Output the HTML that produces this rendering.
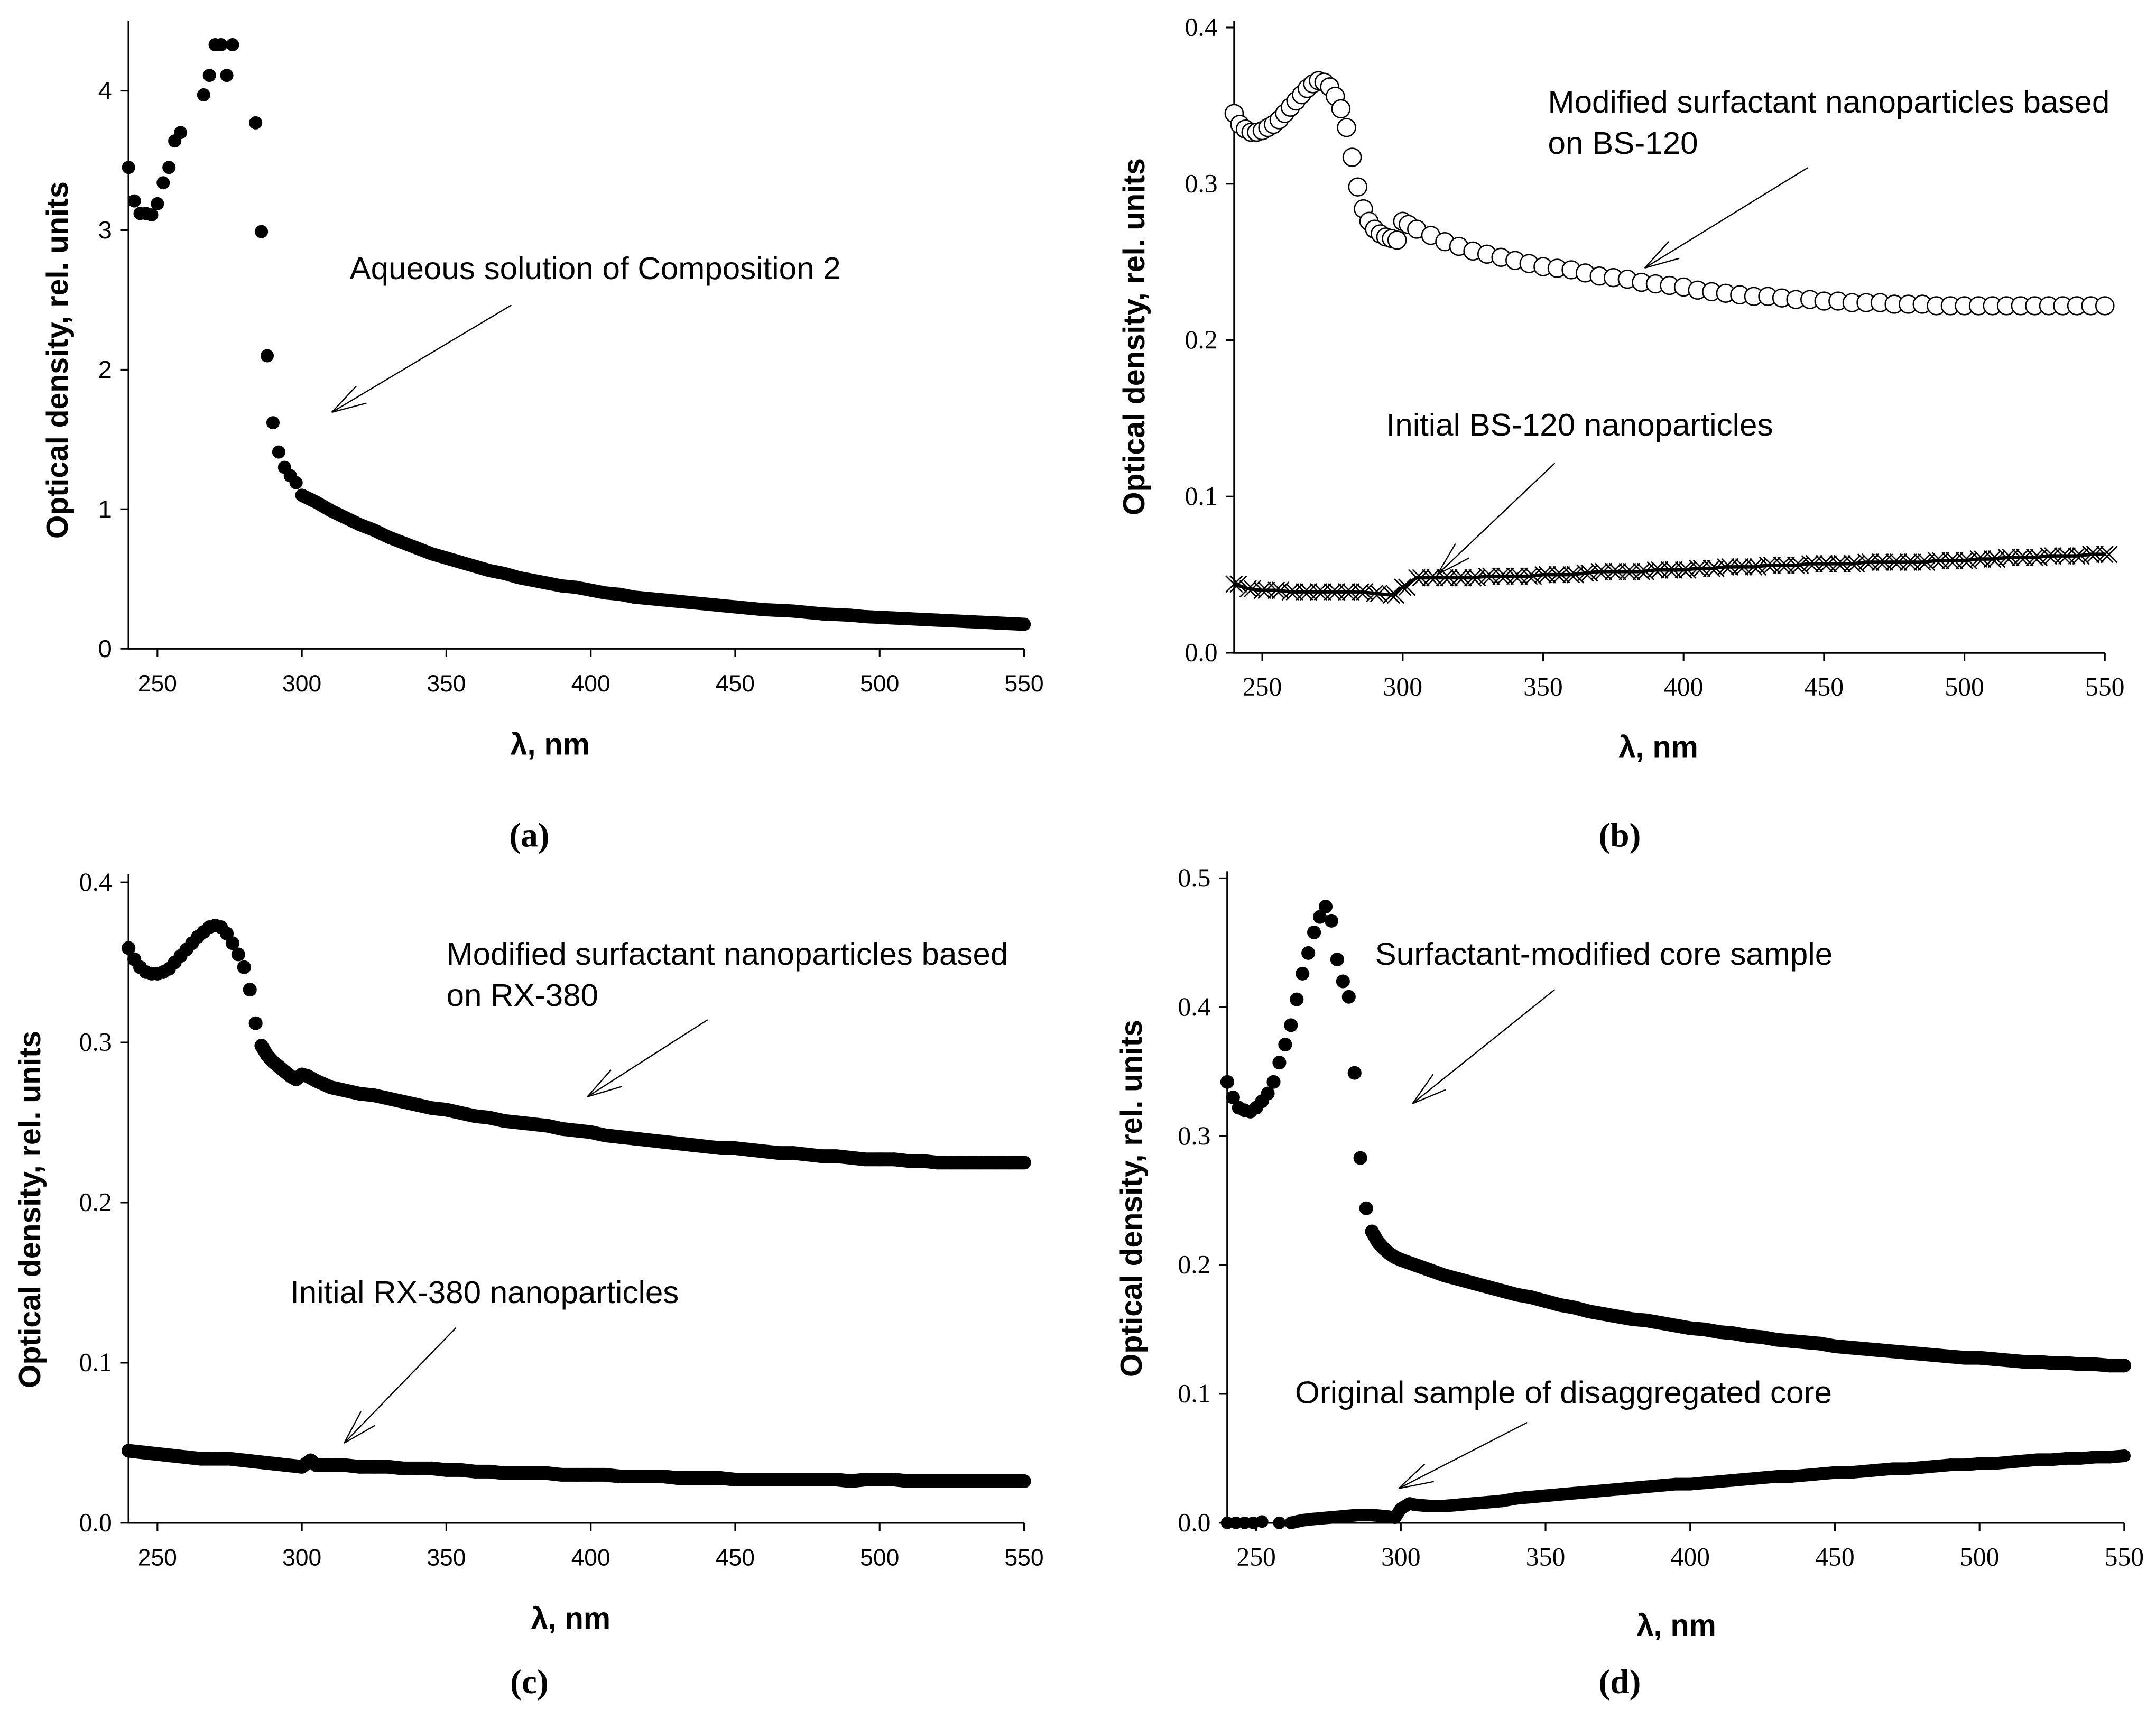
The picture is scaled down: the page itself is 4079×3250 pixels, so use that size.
<!DOCTYPE html>
<html><head><meta charset="utf-8"><style>
html,body{margin:0;padding:0;background:#fff}
svg{display:block}
.sans{font-family:"Liberation Sans",Arial,sans-serif}
.serif{font-family:"Liberation Serif","Times New Roman",serif}
</style></head><body>
<svg id="fig" width="4079" height="3250" viewBox="0 0 1560 1250" preserveAspectRatio="none" xmlns="http://www.w3.org/2000/svg"></svg>
<script>
// ---------- Panel (a) data ----------
const aX = [240,242,244,246,248,250,252,254,256,258,266,268,270,272,274,276,284,286,288,290,292,294,296,298,300,305,310,315,320,325,330,335,340,345,350,355,360,365,370,375,380,385,390,395,400,405,410,415,420,425,430,435,440,445,450,455,460,465,470,475,480,485,490,495,500,505,510,515,520,525,530,535,540,545,550];
const aY = [3.45,3.21,3.12,3.12,3.11,3.19,3.34,3.45,3.64,3.70,3.97,4.11,4.33,4.33,4.11,4.33,3.77,2.99,2.10,1.62,1.41,1.30,1.24,1.19,1.10,1.05,0.99,0.94,0.89,0.85,0.80,0.76,0.72,0.68,0.65,0.62,0.59,0.56,0.54,0.51,0.49,0.47,0.45,0.44,0.42,0.40,0.39,0.37,0.36,0.35,0.34,0.33,0.32,0.31,0.30,0.29,0.28,0.275,0.27,0.26,0.25,0.245,0.24,0.23,0.225,0.22,0.215,0.21,0.205,0.20,0.195,0.19,0.185,0.18,0.175];
const aYTicks = [0,1,2,3,4];
// ---------- Panel (b) data ----------
const bModX = [240,242,244,246,248,250,252,254,256,258,260,262,264,266,268,270,272,274,276,278,280,282,284,286,288,290,292,294,296,298,300,302,305,310,315,320,325,330,335,340,345,350,355,360,365,370,375,380,385,390,395,400,405,410,415,420,425,430,435,440,445,450,455,460,465,470,475,480,485,490,495,500,505,510,515,520,525,530,535,540,545,550];
const bModY = [0.345,0.338,0.335,0.333,0.333,0.334,0.336,0.338,0.341,0.345,0.349,0.353,0.357,0.361,0.364,0.366,0.365,0.362,0.356,0.348,0.336,0.317,0.298,0.284,0.276,0.271,0.268,0.266,0.265,0.264,0.276,0.274,0.271,0.267,0.263,0.260,0.257,0.255,0.253,0.251,0.249,0.247,0.246,0.245,0.243,0.241,0.240,0.239,0.237,0.236,0.235,0.234,0.232,0.231,0.230,0.229,0.228,0.228,0.227,0.226,0.226,0.225,0.225,0.224,0.224,0.224,0.223,0.223,0.223,0.222,0.222,0.222,0.222,0.222,0.222,0.222,0.222,0.222,0.222,0.222,0.222,0.222];
const bIniX = [240,245,250,255,260,265,270,275,280,285,290,296,300,305,310,315,320,325,330,335,340,345,350,355,360,365,370,375,380,385,390,395,400,405,410,415,420,425,430,435,440,445,450,455,460,465,470,475,480,485,490,495,500,505,510,515,520,525,530,535,540,545,550];
const bIniY = [0.044,0.041,0.040,0.040,0.039,0.039,0.039,0.039,0.039,0.039,0.038,0.037,0.042,0.048,0.048,0.048,0.048,0.048,0.049,0.049,0.049,0.049,0.050,0.050,0.050,0.051,0.052,0.052,0.052,0.052,0.053,0.053,0.053,0.054,0.054,0.055,0.055,0.055,0.056,0.056,0.056,0.057,0.057,0.057,0.057,0.058,0.058,0.058,0.058,0.058,0.059,0.059,0.059,0.060,0.060,0.061,0.061,0.061,0.062,0.062,0.062,0.063,0.063];
const bYTicks = ["0.0","0.1","0.2","0.3","0.4"];
// ---------- Panel (c) data ----------
const cModX = [240,242,244,246,248,250,252,254,256,258,260,262,264,266,268,270,272,274,276,278,280,282,284,286,288,290,292,294,296,298,300,302,305,310,315,320,325,330,335,340,345,350,355,360,365,370,375,380,385,390,395,400,405,410,415,420,425,430,435,440,445,450,455,460,465,470,475,480,485,490,495,500,505,510,515,520,525,530,535,540,545,550];
const cModY = [0.359,0.352,0.347,0.344,0.343,0.343,0.344,0.346,0.350,0.354,0.358,0.362,0.366,0.369,0.372,0.373,0.372,0.368,0.362,0.355,0.347,0.333,0.312,0.298,0.292,0.288,0.285,0.282,0.279,0.277,0.280,0.279,0.276,0.272,0.270,0.268,0.267,0.265,0.263,0.261,0.259,0.258,0.256,0.254,0.253,0.251,0.250,0.249,0.248,0.246,0.245,0.244,0.242,0.241,0.240,0.239,0.238,0.237,0.236,0.235,0.234,0.234,0.233,0.232,0.231,0.231,0.230,0.229,0.229,0.228,0.227,0.227,0.227,0.226,0.226,0.225,0.225,0.225,0.225,0.225,0.225,0.225];
const cIniX = [240,245,250,255,260,265,270,275,280,285,290,295,300,303,305,310,315,320,325,330,335,340,345,350,355,360,365,370,375,380,385,390,395,400,405,410,415,420,425,430,435,440,445,450,455,460,465,470,475,480,485,490,495,500,505,510,515,520,525,530,535,540,545,550];
const cIniY = [0.045,0.044,0.043,0.042,0.041,0.040,0.040,0.040,0.039,0.038,0.037,0.036,0.035,0.039,0.036,0.036,0.036,0.035,0.035,0.035,0.034,0.034,0.034,0.033,0.033,0.032,0.032,0.031,0.031,0.031,0.031,0.030,0.030,0.030,0.030,0.029,0.029,0.029,0.029,0.028,0.028,0.028,0.028,0.027,0.027,0.027,0.027,0.027,0.027,0.027,0.027,0.026,0.027,0.027,0.027,0.026,0.026,0.026,0.026,0.026,0.026,0.026,0.026,0.026];
const cYTicks = ["0.0","0.1","0.2","0.3","0.4"];
// ---------- Panel (d) data ----------
const dModX = [240,242,244,246,248,250,252,254,256,258,260,262,264,266,268,270,272,274,276,278,280,282,284,286,288,290,292,294,296,298,300,305,310,315,320,325,330,335,340,345,350,355,360,365,370,375,380,385,390,395,400,405,410,415,420,425,430,435,440,445,450,455,460,465,470,475,480,485,490,495,500,505,510,515,520,525,530,535,540,545,550];
const dModY = [0.342,0.330,0.322,0.320,0.319,0.322,0.327,0.333,0.342,0.357,0.371,0.386,0.406,0.426,0.442,0.458,0.470,0.478,0.467,0.437,0.420,0.408,0.349,0.283,0.244,0.226,0.218,0.213,0.209,0.206,0.204,0.200,0.196,0.192,0.189,0.186,0.183,0.180,0.177,0.175,0.172,0.169,0.167,0.164,0.162,0.160,0.158,0.157,0.155,0.153,0.151,0.150,0.148,0.147,0.145,0.144,0.142,0.141,0.140,0.139,0.137,0.136,0.135,0.134,0.133,0.132,0.131,0.130,0.129,0.128,0.128,0.127,0.126,0.125,0.125,0.124,0.124,0.123,0.123,0.122,0.122];
const dOrgX = [240,243,246,249,252,258,262,266,270,275,280,285,290,295,298,300,303,305,310,315,320,325,330,335,340,345,350,355,360,365,370,375,380,385,390,395,400,405,410,415,420,425,430,435,440,445,450,455,460,465,470,475,480,485,490,495,500,505,510,515,520,525,530,535,540,545,550];
const dOrgY = [0.000,0.000,0.000,0.000,0.001,0.000,0.000,0.002,0.003,0.004,0.005,0.006,0.006,0.005,0.004,0.011,0.015,0.014,0.013,0.013,0.014,0.015,0.016,0.017,0.019,0.020,0.021,0.022,0.023,0.024,0.025,0.026,0.027,0.028,0.029,0.030,0.030,0.031,0.032,0.033,0.034,0.035,0.036,0.036,0.037,0.038,0.039,0.039,0.040,0.041,0.042,0.042,0.043,0.044,0.045,0.045,0.046,0.046,0.047,0.048,0.049,0.049,0.050,0.050,0.051,0.051,0.052];
const dYTicks = ["0.0","0.1","0.2","0.3","0.4","0.5"];
const xTicks = [250,300,350,400,450,500,550];

const NS = "http://www.w3.org/2000/svg";
const fig = document.getElementById('fig');
function mk(tag, attrs, parent){
  const e = document.createElementNS(NS, tag);
  for (const k in attrs) e.setAttribute(k, attrs[k]);
  (parent||fig).appendChild(e);
  return e;
}
function txt(parent, x, y, s, size, cls, anchor, weight){
  const t = mk('text', {x:x, y:y, 'font-size':size, class:cls, 'text-anchor':anchor||'start', fill:'#000'}, parent);
  if (weight) t.setAttribute('font-weight', weight);
  t.textContent = s;
  return t;
}

function panel(cfg){
  const g = mk('g', {});
  
  
  const sx = v => cfg.x0 + (v - 240) / (550 - 240) * (cfg.x1 - cfg.x0);
  const sy = v => cfg.y0 - v / cfg.yMax * (cfg.y0 - cfg.yTop);
  const ax = mk('path', {d:`M${cfg.x0} ${cfg.axTop} L${cfg.x0} ${cfg.y0} L${cfg.x1} ${cfg.y0}`, stroke:'#000', 'stroke-width':1.3, fill:'none'}, g);
  
  
  xTicks.forEach(v => {
    mk('line', {x1:sx(v), x2:sx(v), y1:cfg.y0, y2:cfg.y0+6, stroke:'#000', 'stroke-width':1.2}, g);
    const t = txt(g, sx(v), cfg.y0+31, String(v), cfg.xFont, cfg.xCls, 'middle');
    
    
  });
  cfg.yTicks.forEach(lbl => {
    const v = parseFloat(lbl);
    mk('line', {x1:cfg.x0-6, x2:cfg.x0, y1:sy(v), y2:sy(v), stroke:'#000', 'stroke-width':1.2}, g);
    const t = txt(g, cfg.x0-12, sy(v)+6, lbl, cfg.yFont, cfg.yCls, 'end');
    
    
  });
  const yt = txt(g, 0, 0, 'Optical density, rel. units', 22, 'sans', 'middle', 'bold');
  yt.setAttribute('transform', `translate(${cfg.ytX},${cfg.ytY}) rotate(-90)`);
  
  
  const xt = txt(g, cfg.xtX, cfg.xtY, 'λ, nm', 22, 'sans', 'middle', 'bold');
  
  
  const pl = txt(g, cfg.plX, cfg.plY, cfg.label, 25, 'serif', 'middle', 'bold');
  
  
  cfg.series.forEach(s => {
    const sg = mk('g', {}, g);
    
    
    if (s.band) {
      let d = '';
      s.xs.forEach((x,i) => { if (x >= s.band) d += (d ? 'L' : 'M') + sx(x) + ' ' + sy(s.ys[i]); });
      mk('path', {d:d, stroke:'#000', 'stroke-width':s.r*2, fill:'none', 'stroke-linecap':'round', 'stroke-linejoin':'round'}, sg);
    }
    if (s.type === 'cross') {
      let d = '';
      s.xs.forEach((x,i) => { d += (i ? 'L' : 'M') + sx(x) + ' ' + sy(s.ys[i]); });
      mk('path', {d:d, stroke:'#000', 'stroke-width':2.5, fill:'none'}, sg);
    }
    s.xs.forEach((x,i) => {
      const cx = sx(x), cy = sy(s.ys[i]);
      let m;
      if (s.type === 'dot') m = mk('circle', {cx:cx, cy:cy, r:s.r, fill:'#000'}, sg);
      else if (s.type === 'open') m = mk('circle', {cx:cx, cy:cy, r:s.r, fill:'#fff', stroke:'#000', 'stroke-width':1}, sg);
      else m = mk('path', {d:`M${cx-s.r} ${cy-s.r}L${cx+s.r} ${cy+s.r}M${cx-s.r} ${cy+s.r}L${cx+s.r} ${cy-s.r}M${cx-s.r/2} ${cy-s.r}L${cx+s.r*1.5} ${cy+s.r}M${cx-s.r/2} ${cy+s.r}L${cx+s.r*1.5} ${cy-s.r}`, stroke:'#000', 'stroke-width':1}, sg);
      
      
    });
  });
  cfg.notes.forEach(n => {
    const ng = mk('g', {}, g);
    
    
    n.lines.forEach((l,i) => txt(ng, n.tx, n.ty + i*30, l, 23, 'sans', 'start'));
    const [x1,y1,x2,y2] = n.arrow;
    mk('line', {x1:x1, y1:y1, x2:x2, y2:y2, stroke:'#000', 'stroke-width':0.9}, ng);
    const ang = Math.atan2(y1-y2, x1-x2), L = 26, w = 0.28;
    [ang+w, ang-w].forEach(a => mk('line', {x1:x2, y1:y2, x2:x2+L*Math.cos(a), y2:y2+L*Math.sin(a), stroke:'#000', 'stroke-width':0.9}, ng));
  });
}

panel({name:'panel-a', label:'(a)', x0:93, x1:741, y0:472, yTop:66, yMax:4, axTop:15,
  yTicks:aYTicks.map(String), xCls:'sans', yCls:'sans', xFont:17, yFont:18,
  ytX:49, ytY:262, xtX:398, xtY:549, plX:383, plY:616,
  series:[{name:'series-composition-2', xs:aX, ys:aY, type:'dot', r:4.8, band:300}],
  notes:[{lines:['Aqueous solution of Composition 2'], tx:253, ty:203, arrow:[370,222,240,300]}]});

panel({name:'panel-b', label:'(b)', x0:893, x1:1523, y0:475, yTop:20, yMax:0.4, axTop:15,
  yTicks:bYTicks, xCls:'serif', yCls:'serif', xFont:19, yFont:19,
  ytX:828, ytY:245, xtX:1200, xtY:551, plX:1172, plY:616,
  series:[{name:'series-modified-bs120', xs:bModX, ys:bModY, type:'open', r:6.5},
          {name:'series-initial-bs120', xs:bIniX, ys:bIniY, type:'cross', r:6}],
  notes:[{lines:['Modified surfactant nanoparticles based','on BS-120'], tx:1120, ty:82, arrow:[1308,122,1190,195]},
         {lines:['Initial BS-120 nanoparticles'], tx:1003, ty:317, arrow:[1125,337,1040,418]}]});

panel({name:'panel-c', label:'(c)', x0:93, x1:741, y0:1108, yTop:642, yMax:0.4, axTop:636,
  yTicks:cYTicks, xCls:'sans', yCls:'serif', xFont:17, yFont:19,
  ytX:29, ytY:880, xtX:413, xtY:1185, plX:383, plY:1232,
  series:[{name:'series-modified-rx380', xs:cModX, ys:cModY, type:'dot', r:5, band:286},
          {name:'series-initial-rx380', xs:cIniX, ys:cIniY, type:'dot', r:5, band:240}],
  notes:[{lines:['Modified surfactant nanoparticles based','on RX-380'], tx:323, ty:702, arrow:[512,742,425,798]},
         {lines:['Initial RX-380 nanoparticles'], tx:210, ty:948, arrow:[330,966,249,1050]}]});

panel({name:'panel-d', label:'(d)', x0:888, x1:1537, y0:1108, yTop:639, yMax:0.5, axTop:634,
  yTicks:dYTicks, xCls:'serif', yCls:'serif', xFont:19, yFont:19,
  ytX:826, ytY:872, xtX:1213, xtY:1190, plX:1172, plY:1232,
  series:[{name:'series-modified-core', xs:dModX, ys:dModY, type:'dot', r:5, band:290},
          {name:'series-original-core', xs:dOrgX, ys:dOrgY, type:'dot', r:4.6, band:262}],
  notes:[{lines:['Surfactant-modified core sample'], tx:995, ty:702, arrow:[1125,720,1022,803]},
         {lines:['Original sample of disaggregated core'], tx:937, ty:1021, arrow:[1105,1035,1012,1083]}]});
</script>
</body></html>
